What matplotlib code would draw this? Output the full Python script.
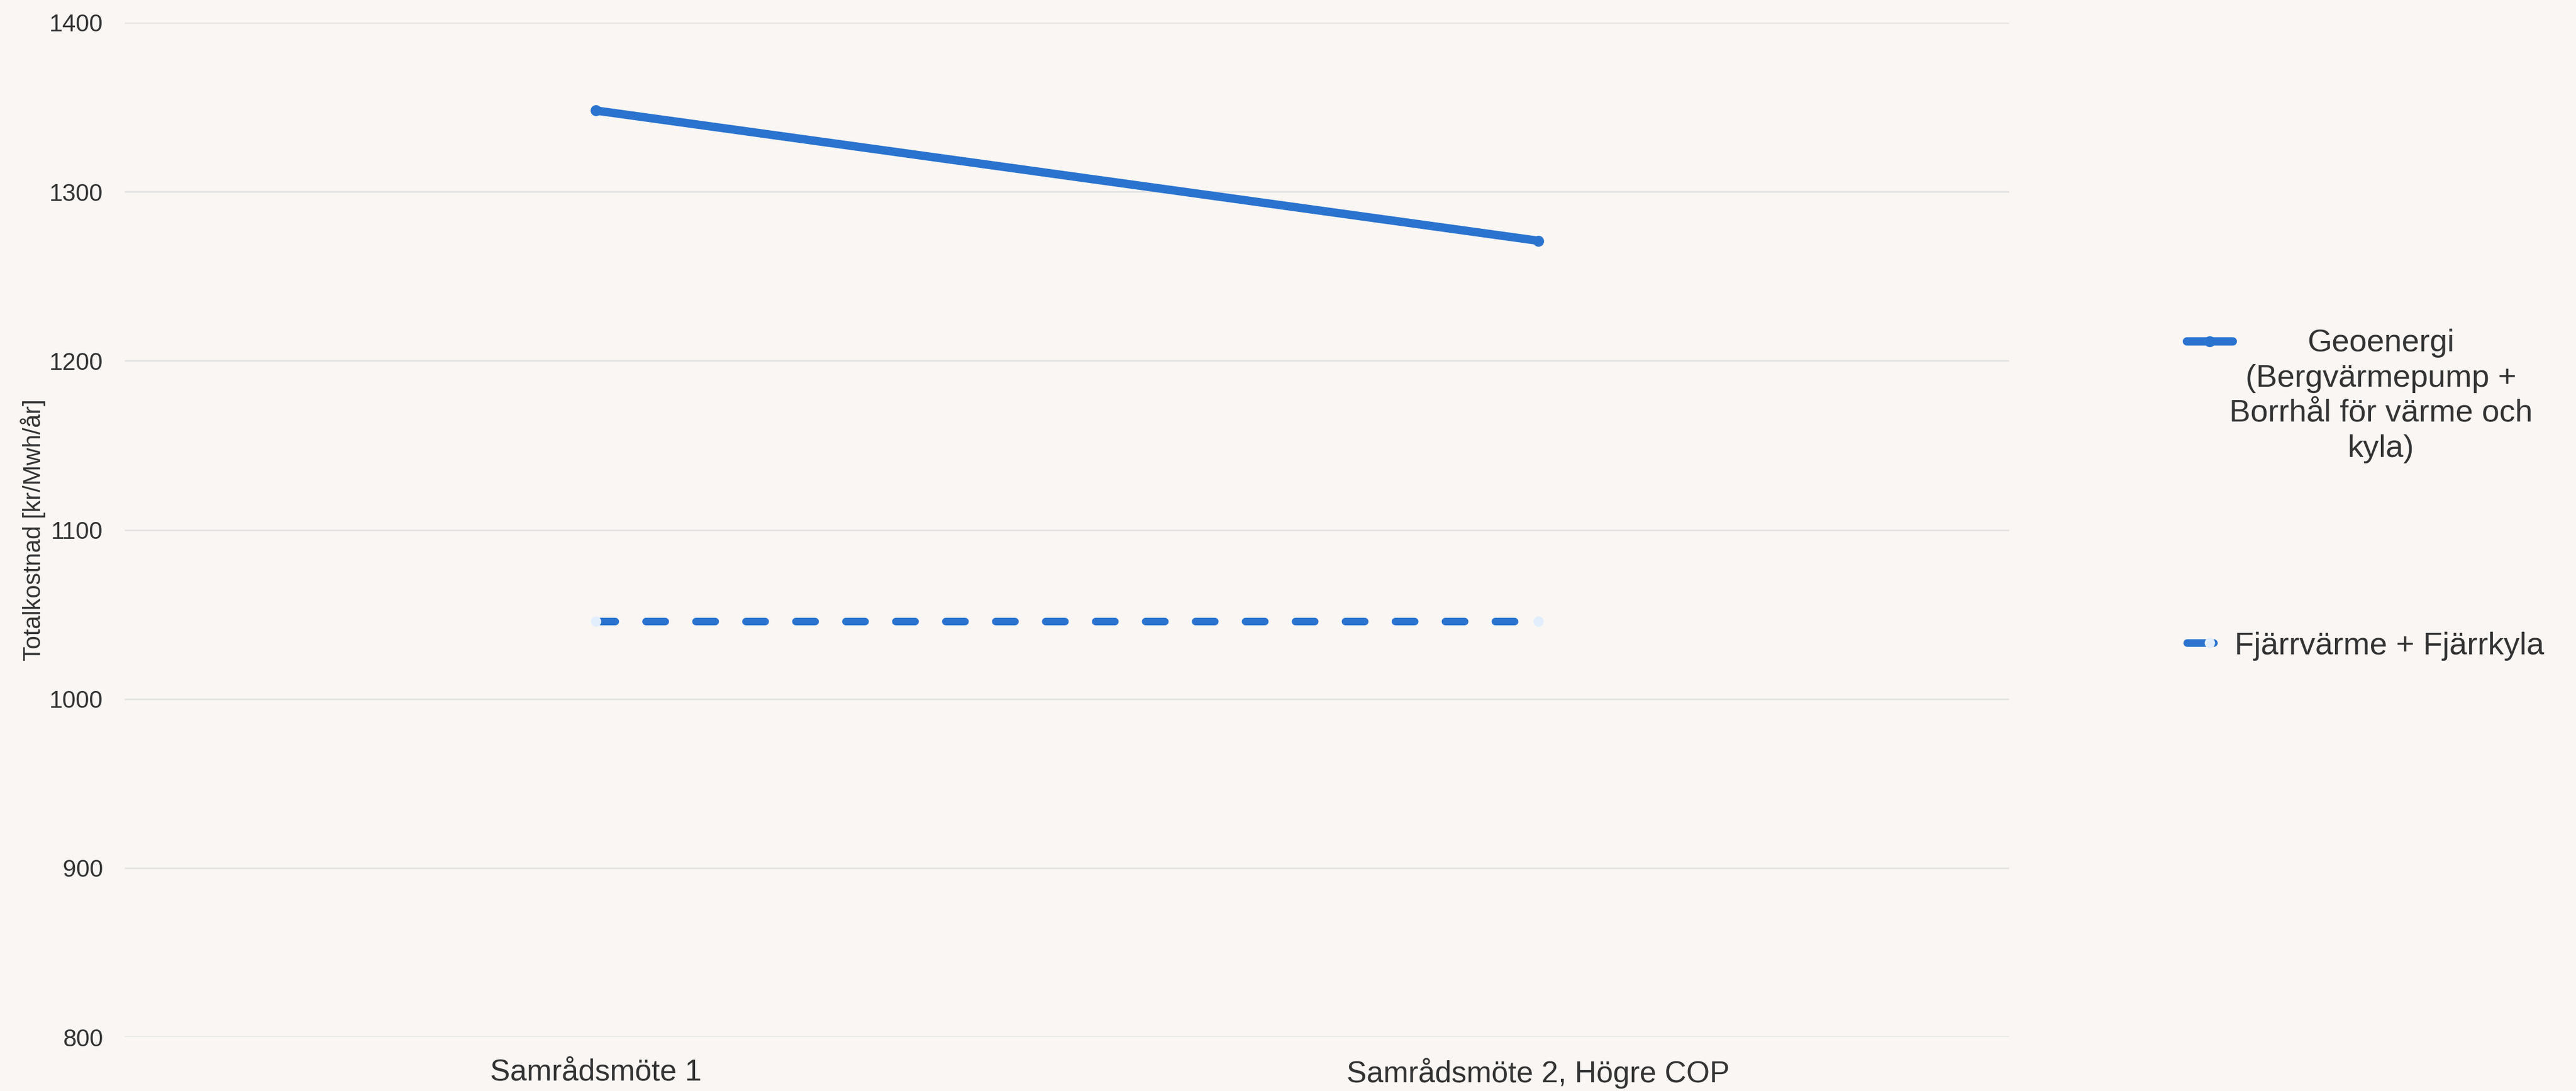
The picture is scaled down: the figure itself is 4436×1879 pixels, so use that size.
import matplotlib.pyplot as plt
from matplotlib.lines import Line2D

plt.rcParams['font.family'] = ['Liberation Sans', 'DejaVu Sans']

# data
categories = ['Samrådsmöte 1', 'Samrådsmöte 2, Högre COP']
geo = [1348, 1271]
fjarr = [1046, 1046]
geo_label = 'Geoenergi\n(Bergvärmepump +\nBorrhål för värme och\nkyla)'
fjarr_label = 'Fjärrvärme + Fjärrkyla'
ylabel = 'Totalkostnad [kr/Mwh/år]'
yticks = [800, 900, 1000, 1100, 1200, 1300, 1400]

bg = '#f9f6f3'
blue = '#2a73cf'
light = '#e2eefc'
txt = '#333333'

W, H, dpi = 4436, 1879, 200
fig = plt.figure(figsize=(W / dpi, H / dpi), dpi=dpi, facecolor=bg)
ax = fig.add_axes([215 / W, 1 - 1786 / H, (3460 - 215) / W, (1786 - 39) / H])
ax.set_facecolor(bg)

x = list(range(len(categories)))
ax.plot(x, geo, color=blue, lw=5.2, solid_capstyle='round',
        marker='o', ms=5.8, mec=blue, mfc=blue, zorder=3)
dashed, = ax.plot(x, fjarr, color=blue, lw=4.7, dash_capstyle='round',
                  marker='o', ms=5.4, mec=light, mfc=light, zorder=3)
dashed.set_dashes((2.53, 4.06))

ax.set_xlim(-0.5, 1.5)
ax.set_ylim(800, 1400)
ax.set_yticks(yticks)
ax.set_xticks(x)
ax.set_xticklabels(categories, fontsize=18.6, color=txt)
ax.tick_params(axis='y', length=0, pad=13.5, labelsize=15, labelcolor=txt)
ax.tick_params(axis='x', length=0, pad=13)
ax.grid(axis='y', color='#e2e2e2', lw=0.9)
ax.set_axisbelow(True)
for s in ax.spines.values():
    s.set_visible(False)
ax.set_ylabel(ylabel, fontsize=15, color=txt, labelpad=2)

# legend drawn by hand on the right
fig.add_artist(Line2D([3766 / W, 3845 / W], [1 - 588 / H] * 2, color=blue, lw=5.2,
                      solid_capstyle='round'))
fig.add_artist(Line2D([3805 / W], [1 - 588 / H], color=blue, marker='o', ms=5.8))
fig.text(4100 / W, 1 - 682 / H, geo_label, ha='center', va='center',
         multialignment='center', fontsize=19.6, color=txt, linespacing=1.27)

fig.add_artist(Line2D([3766 / W, 3812 / W], [1 - 1107 / H] * 2, color=blue, lw=4.7,
                      solid_capstyle='round'))
fig.add_artist(Line2D([3805 / W], [1 - 1107 / H], color=light, marker='o', ms=5.4,
                      mec=light))
fig.text(3848 / W, 1 - 1107 / H, fjarr_label, ha='left', va='center_baseline',
         fontsize=19.6, color=txt)

fig.savefig('out.png', dpi=dpi, facecolor=bg)
